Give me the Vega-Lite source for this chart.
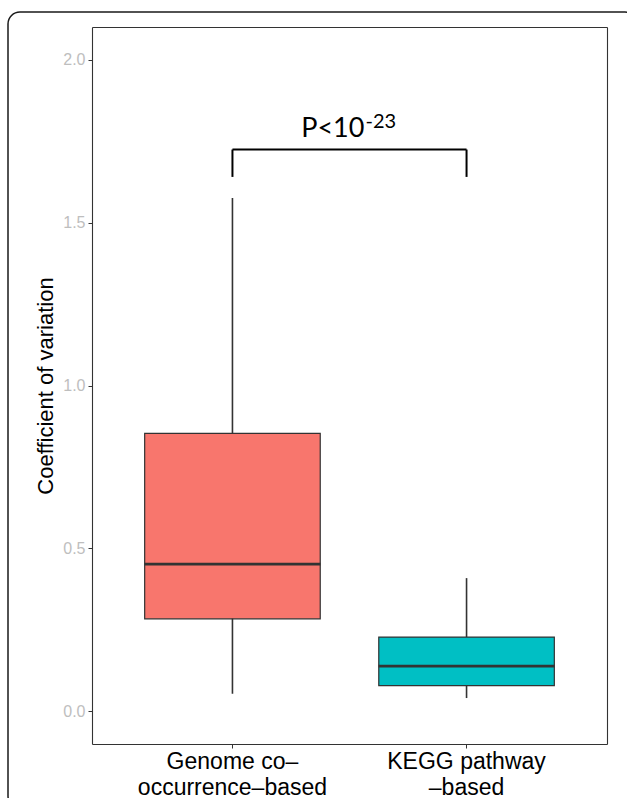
{
  "$schema": "https://vega.github.io/schema/vega-lite/v6.json",
  "width": 629,
  "height": 796,
  "autosize": {"type": "none"},
  "padding": {"left": 8, "top": 12, "right": -10, "bottom": -10},
  "background": "white",
  "config": {
    "view": {"stroke": "#1a1a1a", "strokeWidth": 1.5, "cornerRadius": 12, "fill": "white"},
    "font": "Liberation Sans",
    "axis": {"grid": false}
  },
  "datasets": {
    "boxes": [
      {"method": "Genome co-occurrence-based", "lower": 0.054, "q1": 0.284, "median": 0.452, "q3": 0.853, "upper": 1.575},
      {"method": "KEGG pathway-based", "lower": 0.041, "q1": 0.079, "median": 0.139, "q3": 0.228, "upper": 0.409}
    ],
    "legs": [
      {"method": "Genome co-occurrence-based", "bottom": 1.64, "top": 1.724},
      {"method": "KEGG pathway-based", "bottom": 1.64, "top": 1.724}
    ],
    "bracket": [
      {"from": "Genome co-occurrence-based", "to": "KEGG pathway-based", "y": 1.724}
    ],
    "pval": [
      {"method": "Genome co-occurrence-based", "base": "P<10", "exp": "-23", "y_base": 1.761, "y_exp": 1.791}
    ]
  },
  "resolve": {"axis": {"x": "independent", "y": "independent"}},
  "layer": [
    {
      "data": {"name": "boxes"},
      "mark": {"type": "rule", "color": "#333333", "strokeWidth": 1.6},
      "encoding": {
        "x": {
          "field": "method", "type": "nominal",
          "scale": {"type": "band", "domain": ["Genome co-occurrence-based", "KEGG pathway-based"], "range": [84, 599], "paddingInner": 0.25, "paddingOuter": 0.225},
          "axis": {
            "orient": "bottom", "offset": -64, "title": null, "labelAngle": 0,
            "labelColor": "black", "labelFontSize": 23, "labelLineHeight": 26, "labelPadding": 2,
            "labelOverlap": false, "labelBound": false, "labelLimit": 400,
            "tickColor": "#333333", "tickSize": 4, "domainColor": "#333333", "domainWidth": 1.1,
            "labelExpr": "datum.value === 'Genome co-occurrence-based' ? ['Genome co–', 'occurrence–based'] : ['KEGG pathway', '–based']"
          }
        },
        "y": {
          "field": "lower", "type": "quantitative",
          "scale": {"domain": [-0.1, 2.1], "range": [732, 15], "nice": false, "zero": false},
          "axis": {
            "orient": "left", "offset": -84, "values": [0, 0.5, 1, 1.5, 2], "format": ".1f",
            "title": "Coefficient of variation", "titleFontSize": 22, "titleFontWeight": "normal",
            "titleColor": "black", "titlePadding": 5,
            "labelColor": "#BEBEBE", "labelFontSize": 16, "labelPadding": 3,
            "tickColor": "#333333", "tickSize": 4, "domainColor": "#333333", "domainWidth": 1.1
          }
        },
        "y2": {"field": "upper"}
      }
    },
    {
      "data": {"name": "boxes"},
      "mark": {"type": "bar", "stroke": "#333333", "strokeWidth": 1.2},
      "encoding": {
        "x": {
          "field": "method", "type": "nominal",
          "axis": {"orient": "top", "offset": -15, "labels": false, "ticks": false, "title": null, "domainColor": "#333333", "domainWidth": 1.1}
        },
        "y": {
          "field": "q1", "type": "quantitative",
          "axis": {"orient": "right", "offset": -30, "labels": false, "ticks": false, "title": null, "domainColor": "#333333", "domainWidth": 1.1}
        },
        "y2": {"field": "q3"},
        "fill": {"field": "method", "type": "nominal", "scale": {"range": ["#F8766D", "#00BFC4"]}, "legend": null}
      }
    },
    {
      "data": {"name": "boxes"},
      "mark": {"type": "tick", "color": "#333333", "thickness": 2.7, "size": 176, "orient": "horizontal", "opacity": 1},
      "encoding": {
        "x": {"field": "method", "type": "nominal", "axis": null},
        "y": {"field": "median", "type": "quantitative", "axis": null}
      }
    },
    {
      "data": {"name": "legs"},
      "mark": {"type": "rule", "color": "black", "strokeWidth": 2},
      "encoding": {
        "x": {"field": "method", "type": "nominal", "axis": null},
        "y": {"field": "bottom", "type": "quantitative", "axis": null},
        "y2": {"field": "top"}
      }
    },
    {
      "data": {"name": "bracket"},
      "mark": {"type": "rule", "color": "black", "strokeWidth": 2},
      "encoding": {
        "x": {"field": "from", "type": "nominal", "axis": null},
        "x2": {"field": "to"},
        "y": {"field": "y", "type": "quantitative", "axis": null}
      }
    },
    {
      "data": {"name": "pval"},
      "mark": {"type": "text", "align": "right", "baseline": "alphabetic", "dx": 132, "fontSize": 27, "font": "Lato", "color": "black"},
      "encoding": {
        "x": {"field": "method", "type": "nominal", "axis": null},
        "y": {"field": "y_base", "type": "quantitative", "axis": null},
        "text": {"field": "base"}
      }
    },
    {
      "data": {"name": "pval"},
      "mark": {"type": "text", "align": "left", "baseline": "alphabetic", "dx": 133, "fontSize": 20, "font": "Lato", "color": "black"},
      "encoding": {
        "x": {"field": "method", "type": "nominal", "axis": null},
        "y": {"field": "y_exp", "type": "quantitative", "axis": null},
        "text": {"field": "exp"}
      }
    }
  ]
}
